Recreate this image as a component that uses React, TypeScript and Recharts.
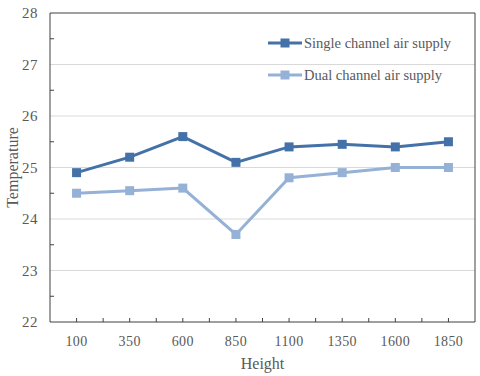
import React from "react";
import {
  LineChart,
  Line,
  XAxis,
  YAxis,
  ReferenceLine,
} from "recharts";

const heights = ["100", "350", "600", "850", "1100", "1350", "1600", "1850"];
const singleChannel = [24.9, 25.2, 25.6, 25.1, 25.4, 25.45, 25.4, 25.5];
const dualChannel = [24.5, 24.55, 24.6, 23.7, 24.8, 24.9, 25.0, 25.0];
const yTicks = [22, 23, 24, 25, 26, 27, 28];
const yMinorTicks = [22, 22.5, 23, 23.5, 24, 24.5, 25, 25.5, 26, 26.5, 27, 27.5, 28];

const data = heights.map((h, i) => ({
  height: h,
  single: singleChannel[i],
  dual: dualChannel[i],
}));

const FONT = "'Liberation Serif', 'Times New Roman', serif";
const TEXT = "#595959";
const AXIS = "#404040";
const DARK = "#4472A8";
const LIGHT = "#95B1D6";

const seriesList = [
  { key: "single", name: "Single channel air supply", color: DARK },
  { key: "dual", name: "Dual channel air supply", color: LIGHT },
];

function SquareDot(color: string) {
  return (props: any) => {
    const { cx, cy, index } = props;
    if (cx == null || cy == null) return null;
    return <rect key={index} x={cx - 4.5} y={cy - 4.5} width={9} height={9} fill={color} />;
  };
}

function XTick(props: any) {
  const { x, y, payload, index } = props;
  const half = payload && payload.offset ? payload.offset : 26.5;
  return (
    <g>
      <line x1={x} x2={x} y1={y - 4} y2={y} stroke={AXIS} />
      {index > 0 && <line x1={x - half} x2={x - half} y1={y - 4} y2={y} stroke={AXIS} />}
      <text x={x} y={y + 19} textAnchor="middle" dominantBaseline="central" fill={TEXT} fontSize={14} fontFamily={FONT} letterSpacing={0.4}>
        {payload.value}
      </text>
    </g>
  );
}

function YTick(props: any) {
  const { x, y, payload } = props;
  const v = payload.value;
  if (Number.isInteger(v)) {
    return (
      <text x={x - 12} y={y} textAnchor="end" dominantBaseline="central" fill={TEXT} fontSize={15} fontFamily={FONT} letterSpacing={0.5}>
        {v}
      </text>
    );
  }
  return <line x1={x} x2={x + 4} y1={y} y2={y} stroke={AXIS} />;
}

function YTitle(props: any) {
  const vb = props.viewBox || {};
  const cx = vb.x + 12;
  const cy = vb.y + vb.height / 2;
  return (
    <text x={cx} y={cy} transform={`rotate(-90 ${cx} ${cy})`} textAnchor="middle" dominantBaseline="central" fill={TEXT} fontSize={16} fontFamily={FONT}>
      Temperature
    </text>
  );
}

function XTitle(props: any) {
  const vb = props.viewBox || {};
  const cx = vb.x + vb.width / 2;
  return (
    <text x={cx} y={vb.y + 41} textAnchor="middle" dominantBaseline="central" fill={TEXT} fontSize={16} fontFamily={FONT}>
      Height
    </text>
  );
}

function LegendBox() {
  return (
    <svg width={200} height={60} style={{ position: "absolute", left: 266, top: 33 }}>
      {seriesList.map((s, i) => {
        const cy = 10 + i * 32;
        return (
          <g key={s.key}>
            <line x1={2} x2={36} y1={cy} y2={cy} stroke={s.color} strokeWidth={3} />
            <rect x={14.5} y={cy - 4.5} width={9} height={9} fill={s.color} />
            <text x={38} y={cy} dominantBaseline="central" fill={TEXT} fontSize={14.5} fontFamily={FONT}>
              {s.name}
            </text>
          </g>
        );
      })}
    </svg>
  );
}

export default function App() {
  return (
    <div style={{ position: "absolute", left: 0, top: 0, width: 480, height: 376, background: "#fff" }}>
      <LineChart width={480} height={376} data={data} margin={{ top: 13, right: 4, left: 0, bottom: 0 }}>
        <XAxis
          dataKey="height"
          scale="band"
          height={54}
          axisLine={{ stroke: AXIS }}
          tickLine={false}
          tickSize={0}
          tickMargin={0}
          tick={<XTick />}
          interval={0}
          label={<XTitle />}
        />
        <YAxis
          domain={[22, 28]}
          ticks={yMinorTicks}
          interval={0}
          width={50}
          axisLine={{ stroke: AXIS }}
          tickLine={false}
          tickSize={0}
          tickMargin={0}
          tick={<YTick />}
          label={<YTitle />}
        />
        <YAxis yAxisId="right" orientation="right" width={1} domain={[22, 28]} axisLine={{ stroke: AXIS }} tick={false} tickLine={false} />
        {yTicks.slice(1, -1).map((t) => (
          <ReferenceLine key={t} y={t} stroke="#D9D9D9" strokeWidth={1} />
        ))}
        <ReferenceLine y={yTicks[yTicks.length - 1]} stroke={AXIS} strokeWidth={1} />
        {seriesList.map((s) => (
          <Line
            key={s.key}
            type="linear"
            dataKey={s.key}
            name={s.name}
            stroke={s.color}
            strokeWidth={3}
            dot={SquareDot(s.color)}
            activeDot={false}
            isAnimationActive={false}
          />
        ))}
      </LineChart>
      <LegendBox />
    </div>
  );
}
